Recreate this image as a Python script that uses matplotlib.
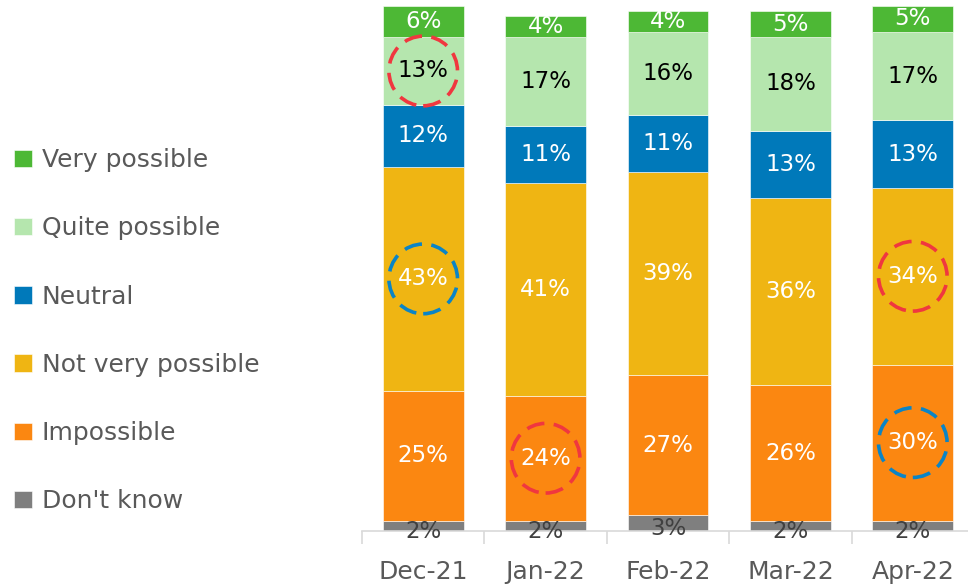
import numpy as np
import matplotlib as mpl
mpl.use('Agg')
import matplotlib.pyplot as plt
from matplotlib.patches import Ellipse

months = ['Dec-21', 'Jan-22', 'Feb-22', 'Mar-22', 'Apr-22']

# stacked bottom -> top
series = ["Don't know", 'Impossible', 'Not very possible', 'Neutral',
          'Quite possible', 'Very possible']
dont_know = [2, 2, 3, 2, 2]
impossible = [25, 24, 27, 26, 30]
not_very = [43, 41, 39, 36, 34]
neutral = [12, 11, 11, 13, 13]
quite = [13, 17, 16, 18, 17]
very = [6, 4, 4, 5, 5]
values = [dont_know, impossible, not_very, neutral, quite, very]

colors = ['#7f7f7f', '#fb8711', '#efb513', '#0079ba', '#b5e6ae', '#4db835']
text_colors = ['#404040', 'white', 'white', 'white', 'black', 'white']

# highlighted labels: (series index, month index, ring colour)
rings = [(4, 0, '#f0373f'), (2, 0, '#0a84c6'), (1, 1, '#f0373f'),
         (2, 4, '#f0373f'), (1, 4, '#0a84c6')]

plt.rcParams['font.family'] = 'DejaVu Sans'

fig = plt.figure(figsize=(9.68, 5.87), dpi=100)
W, H = 968.0, 587.0
ax = fig.add_axes([362 / W, (H - 531) / H, 612 / W, 525 / H])

x = np.arange(len(months))
bottom = np.zeros(len(months))
handles = []
centers = {}
for i, (name, vals) in enumerate(zip(series, values)):
    vals = np.array(vals, dtype=float)
    b = ax.bar(x, vals, 0.66, bottom=bottom, color=colors[i],
               edgecolor='white', linewidth=0.4, label=name, zorder=2)
    handles.append(b)
    for j in range(len(months)):
        cy = bottom[j] + vals[j] / 2
        centers[(i, j)] = cy
        if i == 0:
            cy = bottom[j] + vals[j] / 2 - 1.0
        ax.text(x[j], cy, '%d%%' % vals[j], ha='center', va='center',
                fontsize=16.5, color=text_colors[i], zorder=4)
    bottom += vals

for si, mj, c in rings:
    e = Ellipse((x[mj], centers[(si, mj)]), 0.56, 13.4, fill=False,
                edgecolor=c, linewidth=2.6, linestyle=(0, (5, 2.6)),
                zorder=5)
    ax.add_patch(e)

ax.set_xlim(-0.5, 4.5)
ax.set_ylim(0, 101)
ax.set_yticks([])
for s in ['top', 'right', 'left']:
    ax.spines[s].set_visible(False)
ax.spines['bottom'].set_color('#d9d9d9')
ax.spines['bottom'].set_linewidth(1.2)

ax.set_xticks(x)
ax.set_xticklabels(months, fontsize=18, color='#595959')
ax.tick_params(axis='x', which='major', length=0, pad=21)
ax.set_xticks(np.arange(-0.5, 5.0, 1.0), minor=True)
ax.tick_params(axis='x', which='minor', length=9, width=1.2, color='#d9d9d9')

leg = fig.legend(handles[::-1], series[::-1], loc='upper left',
                 bbox_to_anchor=(4 / W, 1 - 138 / H), frameon=False,
                 fontsize=18, labelspacing=1.77, handlelength=0.7,
                 handleheight=0.7, handletextpad=0.4, borderaxespad=0)
for t in leg.get_texts():
    t.set_color('#595959')

plt.savefig('out.png', dpi=100)
